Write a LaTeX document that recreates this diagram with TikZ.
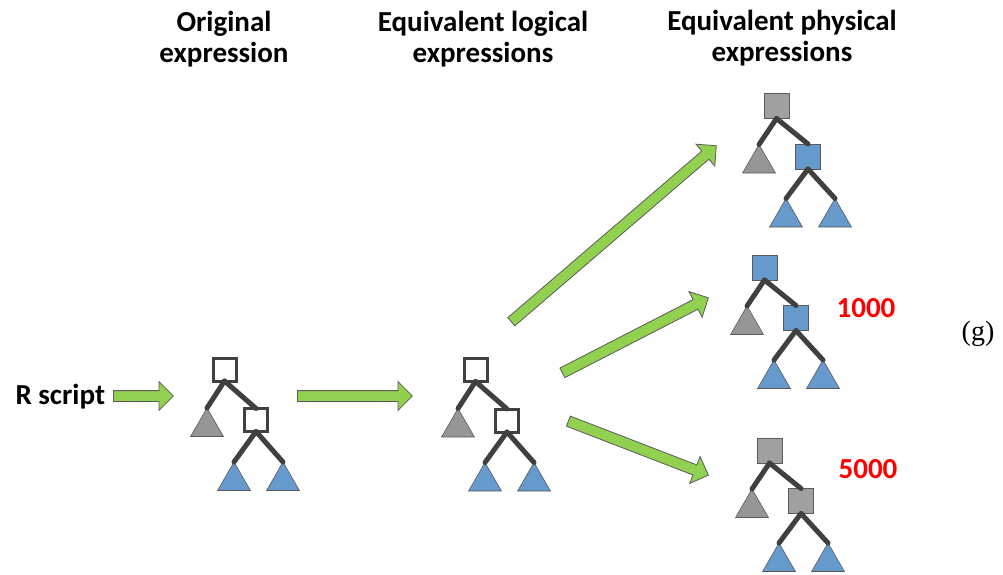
\documentclass[tikz,border=0pt]{standalone}
\usepackage{fontspec}
\setsansfont{Carlito}
\newfontfamily\labelserif{Liberation Serif}
\usetikzlibrary{shapes.geometric,shapes.arrows,calc}

\definecolor{arrowgreen}{HTML}{92D050}
\definecolor{arrowline}{HTML}{5A5A5A}
\definecolor{leafblue}{HTML}{6699CC}
\definecolor{leafgrey}{HTML}{969696}
\definecolor{opgrey}{HTML}{A0A0A0}
\definecolor{branchcol}{HTML}{404040}

\tikzset{
  title/.style={font=\sffamily\bfseries\fontsize{29}{31}\selectfont, align=center, anchor=base},
  cost/.style={font=\sffamily\bfseries\fontsize{29}{31}\selectfont, text=red, anchor=base},
  emptyop/.style={draw=branchcol, line width=3pt, fill=white, minimum size=23pt, inner sep=0pt, outer sep=0pt},
  greyop/.style={draw=arrowline, line width=0.8pt, fill=opgrey, minimum size=25pt, inner sep=0pt, outer sep=0pt},
  blueop/.style={draw=arrowline, line width=0.8pt, fill=leafblue, minimum size=25pt, inner sep=0pt, outer sep=0pt},
  leaf/.style={regular polygon, regular polygon sides=3, draw=arrowline, line width=0.6pt, minimum size=38pt, inner sep=0pt, outer sep=0pt, anchor=corner 1},
  branch/.style={draw=branchcol, line width=5pt, line cap=round},
  fatarrow/.style={single arrow, draw=arrowline, fill=arrowgreen, line width=0.8pt,
    inner sep=0pt, inner ysep=5pt, single arrow head extend=9pt, minimum width=1pt},
  pics/exprtree/.style 2 args={code={
    \node[#1] (-root) at (0,0) {};
    \node[leaf, fill=leafgrey] (-left) at (-17.5,38.5) {};
    \node[#2] (-inner) at (31.5,50.5) {};
    \node[leaf, fill=leafblue] (-ll) at (9.5,92.5) {};
    \node[leaf, fill=leafblue] (-lr) at (58.5,92.5) {};
    \draw[branch] (-root.south) -- (-left.corner 1);
    \draw[branch] (-root.south) -- (-inner.north);
    \draw[branch] (-inner.south) -- (-ll.corner 1);
    \draw[branch] (-inner.south) -- (-lr.corner 1);
  }}
}

% block arrow from #1 to #2
\newcommand{\fatarrowto}[2]{%
  \path let \p1=($(#2)-(#1)$) in
    node[fatarrow, minimum height={veclen(\x1,\y1)}, rotate={atan2(\y1,\x1)}, anchor=tail] at (#1) {};
}

\begin{document}
\begin{tikzpicture}[x=1pt, y=-1pt]
  \useasboundingbox (0,0) rectangle (1003,575);

  % column titles
  \node[title] (torig) at (224,63) {Original\\expression};
  \node[title] (tlog) at (483,63) {Equivalent logical\\expressions};
  \node[title] (tphys) at (782,62) {Equivalent physical\\expressions};

  \node[font=\sffamily\bfseries\fontsize{29}{31}\selectfont, anchor=base west] (rscript) at (12,404) {R script};

  % trees
  \pic (orig) at (224.5,369.5) {exprtree={emptyop}{emptyop}};
  \pic (logi) at (475.5,370) {exprtree={emptyop}{emptyop}};
  \pic (phyA) at (776.5,106) {exprtree={greyop}{blueop}};
  \pic (phyB) at (764.5,267.5) {exprtree={blueop}{blueop}};
  \pic (phyC) at (769.5,450.5) {exprtree={greyop}{greyop}};

  \node[cost] (costB) at (866,317) {1000};
  \node[cost] (costC) at (868,478) {5000};

  \node[font=\labelserif\fontsize{28}{30}\selectfont] (g) at (978,334) {(g)};

  % arrows
  \coordinate (a0s) at (113,396);  \coordinate (a0e) at (173,396);
  \coordinate (a1s) at (297,396);  \coordinate (a1e) at (412,396);
  \coordinate (a2s) at (511,322);  \coordinate (a2e) at (716,146);
  \coordinate (a3s) at (562,373);  \coordinate (a3e) at (708,298);
  \coordinate (a4s) at (568,421);  \coordinate (a4e) at (708,475);
  \fatarrowto{a0s}{a0e}
  \fatarrowto{a1s}{a1e}
  \fatarrowto{a2s}{a2e}
  \fatarrowto{a3s}{a3e}
  \fatarrowto{a4s}{a4e}
\end{tikzpicture}
\end{document}
